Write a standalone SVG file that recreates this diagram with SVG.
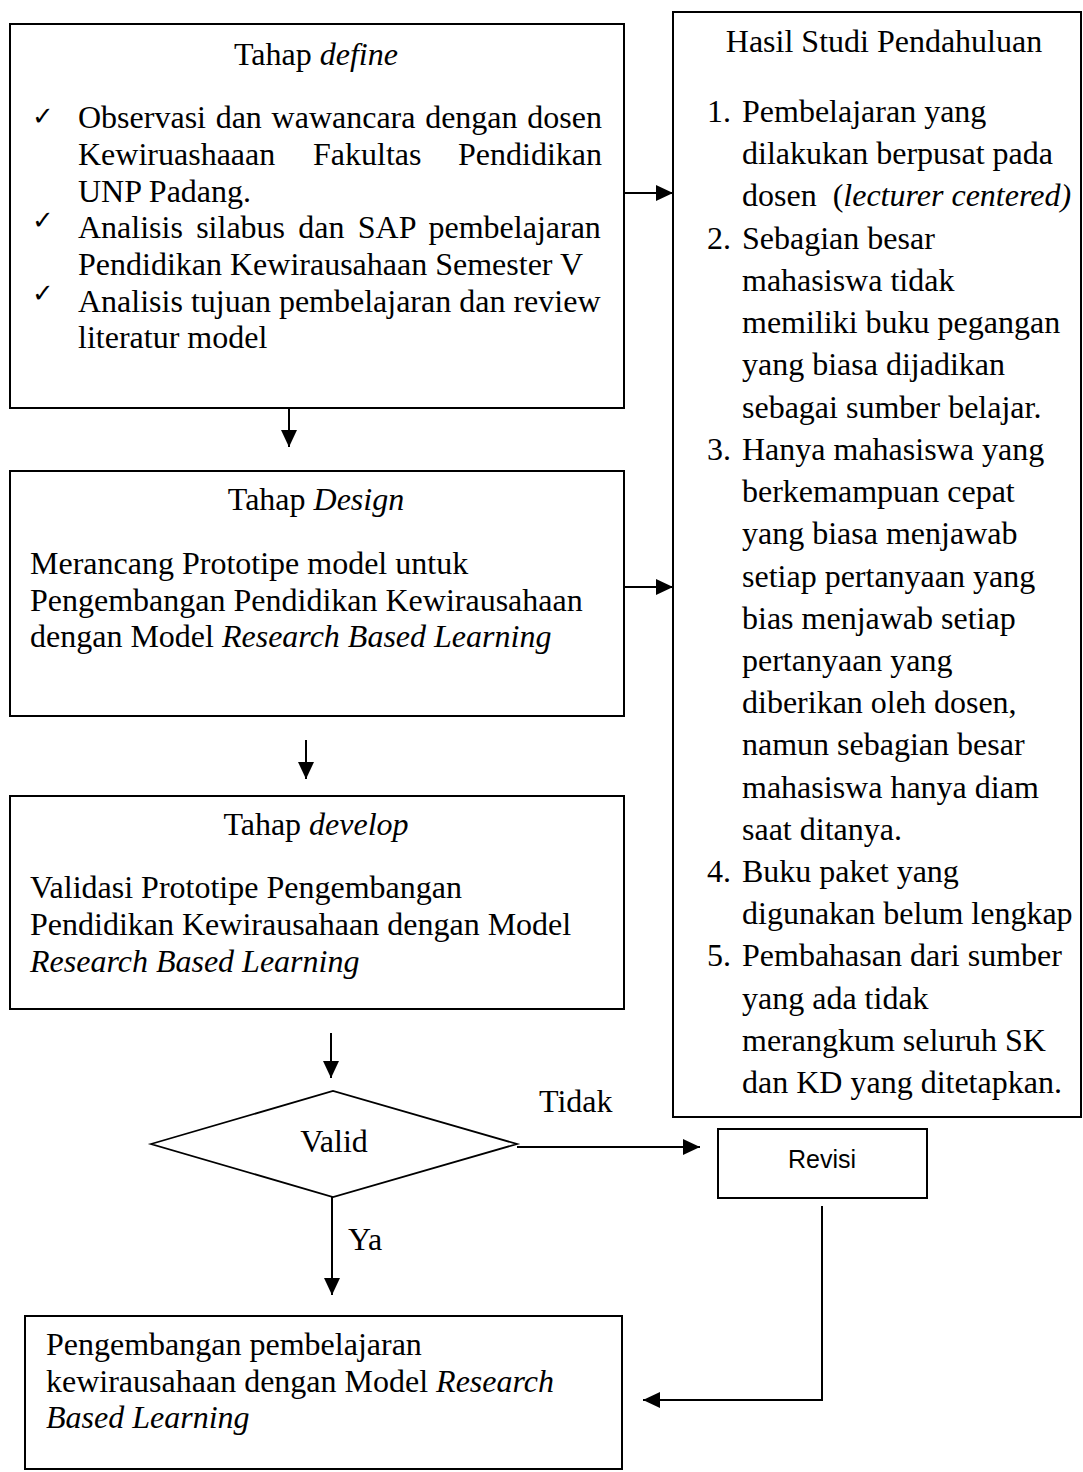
<svg xmlns="http://www.w3.org/2000/svg" width="1083" height="1472" viewBox="0 0 1083 1472">
<style>
  .box { fill: #fff; stroke: #000; stroke-width: 2; }
  .t { font-family: "Liberation Serif", "Times New Roman", serif; font-size: 32px; fill: #000; }
  .c { text-anchor: middle; }
  .i { font-style: italic; }
  .chk { font-family: "DejaVu Sans", sans-serif; font-size: 26px; fill: #000; }
  .sans { font-family: "Liberation Sans", Arial, sans-serif; font-size: 25px; fill: #000; text-anchor: middle; }
  .ln { fill: none; stroke: #000; stroke-width: 2; }
</style>
<defs>
  <marker id="ah" markerUnits="userSpaceOnUse" markerWidth="17" markerHeight="16" refX="17" refY="8" orient="auto">
    <path d="M0,0 L17,8 L0,16 Z" fill="#000"/>
  </marker>
</defs>
<rect width="1083" height="1472" fill="#fff"/>

<g id="define">
  <rect class="box" x="10" y="24" width="614" height="384"/>
  <text class="t c" x="316" y="65">Tahap <tspan class="i">define</tspan></text>
  <text class="chk" x="32" y="125">✓</text>
  <text class="chk" x="32" y="229">✓</text>
  <text class="chk" x="32" y="302">✓</text>
  <text class="t" x="78" y="128" word-spacing="1.7">Observasi dan wawancara dengan dosen</text>
  <text class="t" x="78" y="165">Kewiruashaaan</text>
  <text class="t" x="313" y="165">Fakultas</text>
  <text class="t" x="602" y="165" text-anchor="end">Pendidikan</text>
  <text class="t" x="78" y="202">UNP Padang.</text>
  <text class="t" x="78" y="238" word-spacing="5.25">Analisis silabus dan SAP pembelajaran</text>
  <text class="t" x="78" y="275">Pendidikan Kewirausahaan Semester V</text>
  <text class="t" x="78" y="312">Analisis tujuan pembelajaran dan review</text>
  <text class="t" x="78" y="348">literatur model</text>
</g>

<g id="design">
  <rect class="box" x="10" y="471" width="614" height="245"/>
  <text class="t c" x="316" y="510">Tahap <tspan class="i">Design</tspan></text>
  <text class="t" x="30" y="574">Merancang Prototipe model untuk</text>
  <text class="t" x="30" y="611">Pengembangan Pendidikan Kewirausahaan</text>
  <text class="t" x="30" y="647">dengan Model <tspan class="i">Research Based Learning</tspan></text>
</g>

<g id="develop">
  <rect class="box" x="10" y="796" width="614" height="213"/>
  <text class="t c" x="316" y="835">Tahap <tspan class="i">develop</tspan></text>
  <text class="t" x="30" y="898">Validasi Prototipe Pengembangan</text>
  <text class="t" x="30" y="935">Pendidikan Kewirausahaan dengan Model</text>
  <text class="t i" x="30" y="972">Research Based Learning</text>
</g>

<g id="hasil">
  <rect class="box" x="673" y="12" width="408" height="1105"/>
  <text class="t c" x="884" y="52">Hasil Studi Pendahuluan</text>
  <text class="t" x="707" y="122">1.</text>
  <text class="t" x="742" y="122">Pembelajaran yang</text>
  <text class="t" x="742" y="164">dilakukan berpusat pada</text>
  <text class="t" x="742" y="206">dosen <tspan dx="8">(</tspan><tspan class="i">lecturer centered)</tspan></text>
  <text class="t" x="707" y="249">2.</text>
  <text class="t" x="742" y="249">Sebagian besar</text>
  <text class="t" x="742" y="291">mahasiswa tidak</text>
  <text class="t" x="742" y="333">memiliki buku pegangan</text>
  <text class="t" x="742" y="375">yang biasa dijadikan</text>
  <text class="t" x="742" y="418">sebagai sumber belajar.</text>
  <text class="t" x="707" y="460">3.</text>
  <text class="t" x="742" y="460">Hanya mahasiswa yang</text>
  <text class="t" x="742" y="502">berkemampuan cepat</text>
  <text class="t" x="742" y="544">yang biasa menjawab</text>
  <text class="t" x="742" y="587">setiap pertanyaan yang</text>
  <text class="t" x="742" y="629">bias menjawab setiap</text>
  <text class="t" x="742" y="671">pertanyaan yang</text>
  <text class="t" x="742" y="713">diberikan oleh dosen,</text>
  <text class="t" x="742" y="755">namun sebagian besar</text>
  <text class="t" x="742" y="798">mahasiswa hanya diam</text>
  <text class="t" x="742" y="840">saat ditanya.</text>
  <text class="t" x="707" y="882">4.</text>
  <text class="t" x="742" y="882">Buku paket yang</text>
  <text class="t" x="742" y="924">digunakan belum lengkap</text>
  <text class="t" x="707" y="966">5.</text>
  <text class="t" x="742" y="966">Pembahasan dari sumber</text>
  <text class="t" x="742" y="1009">yang ada tidak</text>
  <text class="t" x="742" y="1051">merangkum seluruh SK</text>
  <text class="t" x="742" y="1093">dan KD yang ditetapkan.</text>
</g>

<g id="valid">
  <polygon points="151,1144 333,1091 517,1144 333,1197" fill="#fff" stroke="#000" stroke-width="1.8"/>
  <text class="t c" x="334" y="1152">Valid</text>
</g>

<g id="revisi">
  <rect class="box" x="718" y="1129" width="209" height="69"/>
  <text class="sans" x="822" y="1168">Revisi</text>
</g>

<g id="pengembangan">
  <rect class="box" x="25" y="1316" width="597" height="153"/>
  <text class="t" x="46" y="1355">Pengembangan pembelajaran</text>
  <text class="t" x="46" y="1392">kewirausahaan dengan Model <tspan class="i">Research</tspan></text>
  <text class="t i" x="46" y="1428">Based Learning</text>
</g>

<g id="connectors">
  <line class="ln" x1="624" y1="193" x2="673" y2="193" marker-end="url(#ah)"/>
  <line class="ln" x1="624" y1="587" x2="673" y2="587" marker-end="url(#ah)"/>
  <line class="ln" x1="289" y1="408" x2="289" y2="447" marker-end="url(#ah)"/>
  <line class="ln" x1="306" y1="740" x2="306" y2="779" marker-end="url(#ah)"/>
  <line class="ln" x1="331" y1="1033" x2="331" y2="1078" marker-end="url(#ah)"/>
  <line class="ln" x1="517" y1="1147" x2="700" y2="1147" marker-end="url(#ah)"/>
  <line class="ln" x1="332" y1="1197" x2="332" y2="1295" marker-end="url(#ah)"/>
  <polyline class="ln" points="822,1206 822,1400 643,1400" marker-end="url(#ah)"/>
  <text class="t" x="539" y="1112">Tidak</text>
  <text class="t" x="348" y="1250">Ya</text>
</g>
</svg>
